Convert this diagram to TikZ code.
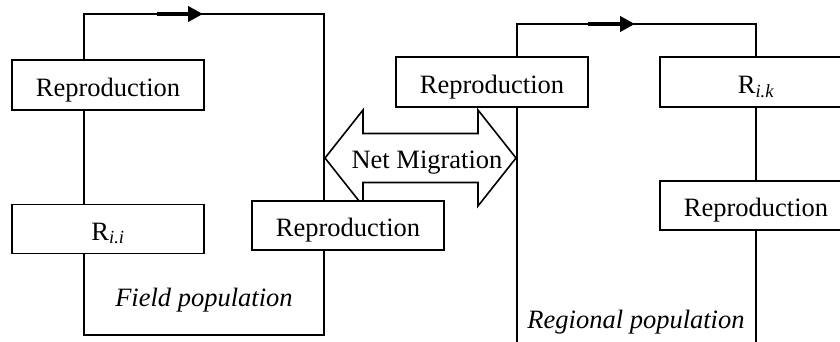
\documentclass[tikz,border=0pt]{standalone}
\usepackage{fontspec}
\setmainfont{Liberation Serif}
\usetikzlibrary{arrows.meta}
\begin{document}
\begin{tikzpicture}[x=1pt,y=-1pt,
  every node/.style={font=\fontsize{26.5}{30}\selectfont},
  box/.style={draw, fill=white, line width=1.6pt, inner sep=0pt, minimum width=192pt, minimum height=49pt, text height=22pt, text depth=0pt},
  loop/.style={line width=1.6pt},
  flow/.style={line width=4.5pt, -{Triangle[length=15pt,width=15pt]}},
  caption/.style={font=\fontsize{26.5}{30}\selectfont\itshape, anchor=base}]
\useasboundingbox (0,0) rectangle (840,341);
\clip (0,0) rectangle (840,341);
% coordinates of loop corners
\coordinate (L1) at (84,14);
\coordinate (R1) at (324,14);
\coordinate (R1b) at (324,335);
\coordinate (L1b) at (84,335);
\coordinate (L2) at (517,24);
\coordinate (R2) at (756,24);
\coordinate (L2b) at (517,345);
\coordinate (R2b) at (756,345);
% double arrow
\draw[loop, fill=white, line join=miter] (325,158) -- (363,110) -- (363,133.5) -- (478,133.5) -- (478,110) -- (516,158) -- (478,206) -- (478,182.5) -- (363,182.5) -- (363,206) -- cycle;
\node[anchor=base] (mig) at (427,168) {Net Migration};
% boxes
\node[box, minimum height=50pt] (rep1) at (108,85) {Reproduction};
\node[box] (rii) at (108,229) {R\textsubscript{\itshape i.i}};
\node[box] (rep3) at (348,225.5) {Reproduction};
\node[box, minimum height=50pt] (rep4) at (492,82) {Reproduction};
\node[box, minimum height=50pt] (rik) at (756,82) {R\textsubscript{\itshape i.k}};
\node[box] (rep5) at (756,205.5) {Reproduction};
% left loop
\draw[loop] (rep1.north -| L1) -- (L1) -- (R1) -- (rep3.north -| R1);
\draw[loop] (rep3.south -| R1) -- (R1b) -- (L1b) -- (rii.south -| L1);
\draw[loop] (rii.north -| L1) -- (rep1.south -| L1);
\coordinate (a1s) at (157,14);
\coordinate (a1e) at (203,14);
\draw[flow] (a1s) -- (a1e);
% right loop
\draw[loop] (rep4.north -| L2) -- (L2) -- (R2) -- (rik.north);
\draw[loop] (rep4.south -| L2) -- (L2b);
\draw[loop] (rik.south) -- (rep5.north);
\draw[loop] (rep5.south) -- (R2b);
\coordinate (a2s) at (588,24);
\coordinate (a2e) at (635,24);
\draw[flow] (a2s) -- (a2e);
% captions
\node[caption] (field) at (204,306) {Field population};
\node[caption] (regional) at (636,328) {Regional population};
\end{tikzpicture}
\end{document}
